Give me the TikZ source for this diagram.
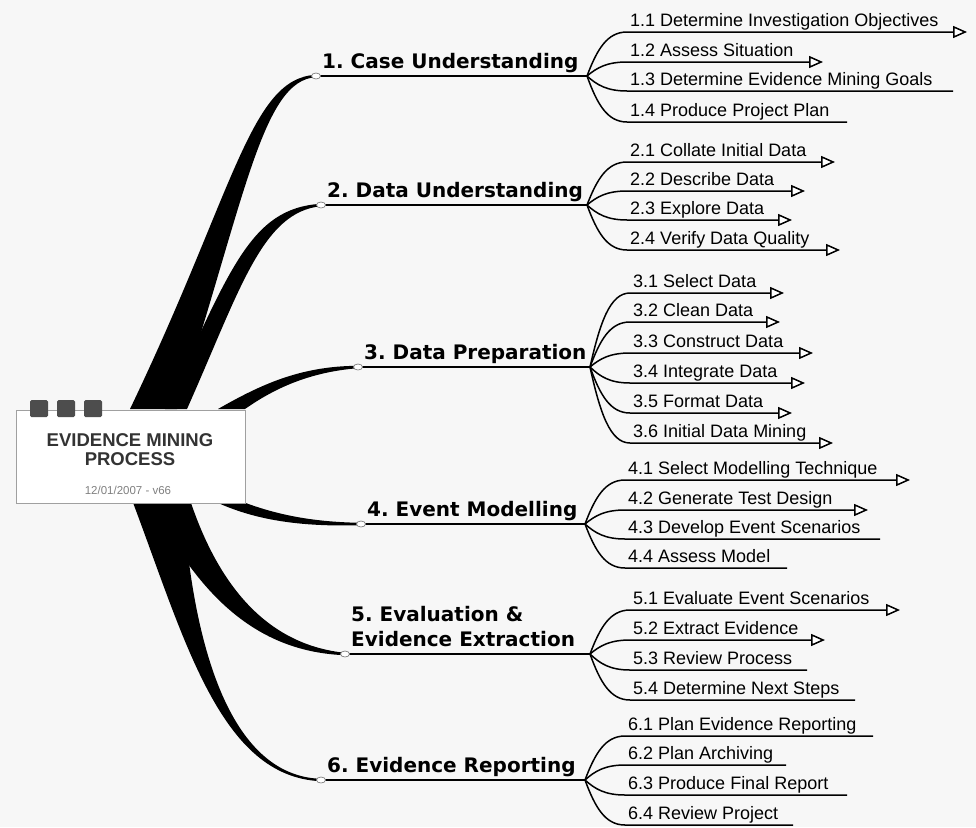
\documentclass[tikz,border=0pt]{standalone}
\usepackage{fontspec}
\setmainfont{Liberation Sans}
\newfontfamily\headfont{DejaVu Sans}
\frenchspacing
\usetikzlibrary{arrows.meta,shapes.geometric,calc}
\definecolor{paper}{HTML}{F7F7F7}
\definecolor{boxedge}{HTML}{A0A0A0}
\definecolor{tab}{HTML}{4D4D4D}
\definecolor{ink}{HTML}{333333}
\tikzset{
  hub/.style={draw=boxedge,fill=white,line width=1pt,minimum width=229pt,minimum height=93pt,inner sep=0pt},
  title/.style={align=center,inner sep=0pt,text=ink,font=\bfseries\fontsize{18.5}{19}\selectfont},
  stamp/.style={inner sep=0pt,text=gray,font=\fontsize{11.5}{13}\selectfont},
  main/.style={anchor=base west,inner sep=0pt,font=\headfont\bfseries\fontsize{20}{25}\selectfont},
  sub/.style={anchor=base west,inner sep=0pt,font=\fontsize{18}{20}\selectfont},
  knob/.style={ellipse,draw=gray,fill=white,line width=0.7pt,minimum width=9pt,minimum height=6pt,inner sep=0pt},
  stem/.style={line width=2pt},
  twig/.style={line width=1.5pt},
  tip/.style={-{Triangle[fill=white,length=14pt,width=12pt]}},
  bare/.style={},
}
\begin{document}
\begin{tikzpicture}[x={(1pt,0)},y={(0,-1pt)}]
\fill[paper] (0,0) rectangle (976,827);
\useasboundingbox (0,0) rectangle (976,827);
\foreach \k/\x/\y/\fx in {1/316/76/587,2/321/205/587,3/358/367/590,4/361/524/585,5/345/654/590,6/321/780/585}
  {\coordinate (k\k) at (\x,\y); \coordinate (f\k) at (\fx,\y);}
% stems out of the hub
\fill (130,409) .. controls (235,190) and (250,78) .. ($(k1)+(0,-1.2)$) -- ($(k1)+(0,1.2)$)
  .. controls (262,80) and (245,200) .. (177,409) -- cycle;
\fill (165,409) .. controls (230,270) and (250,208) .. ($(k2)+(0,-1.2)$) -- ($(k2)+(0,1.2)$)
  .. controls (262,212) and (240,290) .. (187,409) -- cycle;
\fill (218,409) .. controls (260,385) and (300,366) .. ($(k3)+(0,-1.2)$) -- ($(k3)+(0,1.2)$)
  .. controls (310,372) and (275,388) .. (245,409) -- cycle;
\fill (243,502) .. controls (275,514) and (310,522) .. ($(k4)+(0,-1.2)$) -- ($(k4)+(0,1.2)$)
  .. controls (300,527) and (255,520) .. (216,502) -- cycle;
\fill (150,500) .. controls (200,600) and (260,652) .. ($(k5)+(0,1.2)$) -- ($(k5)+(0,-1.2)$)
  .. controls (270,645) and (220,590) .. (190,500) -- cycle;
\fill (132,500) .. controls (185,640) and (220,777) .. ($(k6)+(0,1.2)$) -- ($(k6)+(0,-1.2)$)
  .. controls (228,776) and (192,640) .. (183,500) -- cycle;
% central topic
\node[hub] (hub) at (130.5,456.5) {};
\foreach \x in {30,57,84}
  \fill[tab,rounded corners=1.5pt] (\x,400) rectangle +(18,17);
\node[title] (name) at (130,449.5) {EVIDENCE MINING\\PROCESS};
\node[stamp] (date) at (128,490) {12/01/2007 - v66};
% main topics
\foreach \k/\t in {1/{1. Case Understanding},2/{2. Data Understanding},3/{3. Data Preparation},4/{4. Event Modelling},5/{\begin{tabular}[b]{@{}l@{}}5. Evaluation \&\\Evidence Extraction\end{tabular}},6/{6. Evidence Reporting}}
{\draw[stem] (k\k) -- (f\k);
 \node[knob] (o\k) at (k\k) {};
 \node[main] (m\k) at ($(k\k)+(6,-8)$) {\t};}
% subtopics
\foreach \g/\fx/\fy/\lst in {
  1/587/76/{32/967/tip/1.1 Determine Investigation Objectives,62/823/tip/1.2 Assess Situation,91/953/bare/1.3 Determine Evidence Mining Goals,122/847/bare/1.4 Produce Project Plan},
  2/587/205/{162/835/tip/2.1 Collate Initial Data,191/805/tip/2.2 Describe Data,220/792/tip/2.3 Explore Data,250/840/tip/2.4 Verify Data Quality},
  3/590/367/{293/784/tip/3.1 Select Data,322/780/tip/3.2 Clean Data,353/813/tip/3.3 Construct Data,383/805/tip/3.4 Integrate Data,413/792/tip/3.5 Format Data,443/833/tip/3.6 Initial Data Mining},
  4/585/524/{480/910/tip/4.1 Select Modelling Technique,510/868/tip/4.2 Generate Test Design,539/880/bare/4.3 Develop Event Scenarios,568/787/bare/4.4 Assess Model},
  5/590/654/{610/900/tip/5.1 Evaluate Event Scenarios,640/825/tip/5.2 Extract Evidence,670/807/bare/5.3 Review Process,700/855/bare/5.4 Determine Next Steps},
  6/585/780/{736/873/bare/6.1 Plan Evidence Reporting,765/786/bare/6.2 Plan Archiving,795/847/bare/6.3 Produce Final Report,825/793/bare/6.4 Review Project}}
  \foreach [count=\i] \y/\e/\s/\t in \lst
  {\node[sub] (s\g\i) at (\fx+43,\y-6) {\t};
   \coordinate (u\g\i) at (\fx+40,\y);
   \coordinate (e\g\i) at (\e,\y);
   \draw[twig,\s] (f\g) .. controls +(10,{0.6*(\y-\fy)}) and +(-20,0) .. (u\g\i) -- (e\g\i);}
\end{tikzpicture}
\end{document}
